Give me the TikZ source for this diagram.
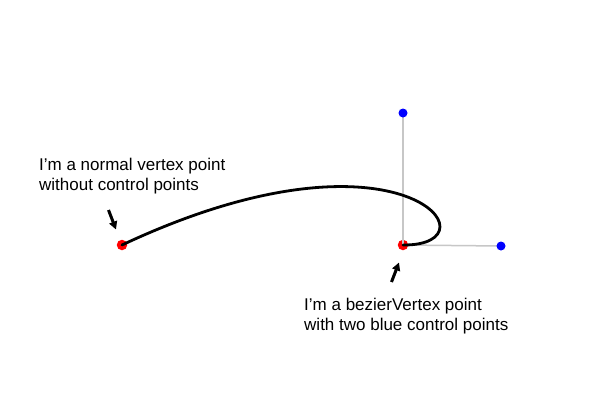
\documentclass[tikz,border=0pt]{standalone}
\usepackage{fontspec}
\setmainfont{Liberation Sans}
\usetikzlibrary{arrows.meta}
\begin{document}
\begin{tikzpicture}[x=1pt,y=-1pt,
  reddot/.style={circle,fill=red,inner sep=0pt,minimum size=10.5pt},
  bluedot/.style={circle,fill=blue,inner sep=0pt,minimum size=9pt},
  handle/.style={draw=black!22,line width=1.5pt},
  curveline/.style={line width=2.8pt,line cap=round},
  pointer/.style={line width=3pt,-{Triangle[length=8pt,width=8pt]}},
  label/.style={font=\fontsize{17}{20}\selectfont,align=left,inner sep=0pt,anchor=base west}]
\useasboundingbox (0,0) rectangle (600,405);
\fill[white] (0,0) rectangle (600,405);
\coordinate (v0) at (122,245);
\coordinate (v1) at (403,245);
\coordinate (c1) at (403,113);
\coordinate (c2) at (501,246);
\node[reddot] (r0) at (v0) {};
\node[reddot] (r1) at (v1) {};
\draw[handle] (v1) -- (c1);
\draw[handle] (v1) -- (c2);
\node[bluedot] (b1) at (c1) {};
\node[bluedot] (b2) at (c2) {};
\draw[curveline] (v0) .. controls (c1) and (c2) .. (v1);
\node[label] (t1) at (39,190) {I’m a normal vertex point\\without control points};
\node[label] (t2) at (304,330) {I’m a bezierVertex point\\with two blue control points};
\coordinate (a1s) at (108.5,210);
\coordinate (a1e) at (116,229.5);
\coordinate (a2s) at (391.5,282);
\coordinate (a2e) at (399,262.5);
\draw[pointer] (a1s) -- (a1e);
\draw[pointer] (a2s) -- (a2e);
\end{tikzpicture}
\end{document}
